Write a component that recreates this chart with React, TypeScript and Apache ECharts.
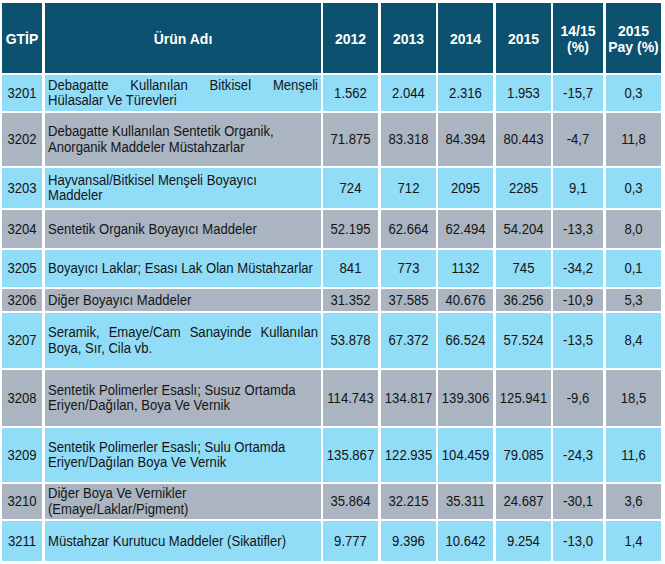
import React, { useEffect, useRef } from 'react';
import * as echarts from 'echarts';

// ---- data ----
const headers = ['GTİP', 'Ürün Adı', '2012', '2013', '2014', '2015', '14/15\n(%)', '2015\nPay (%)'];
const gtip = ['3201', '3202', '3203', '3204', '3205', '3206', '3207', '3208', '3209', '3210', '3211'];
const productNames = [
  'Debagatte Kullanılan Bitkisel Menşeli\nHülasalar Ve Türevleri',
  'Debagatte Kullanılan Sentetik Organik,\nAnorganik Maddeler Müstahzarlar',
  'Hayvansal/Bitkisel Menşeli Boyayıcı\nMaddeler',
  'Sentetik Organik Boyayıcı Maddeler',
  'Boyayıcı Laklar; Esası Lak Olan Müstahzarlar',
  'Diğer Boyayıcı Maddeler',
  'Seramik, Emaye/Cam Sanayinde Kullanılan\nBoya, Sır, Cila vb.',
  'Sentetik Polimerler Esaslı; Susuz Ortamda\nEriyen/Dağılan, Boya Ve Vernik',
  'Sentetik Polimerler Esaslı; Sulu Ortamda\nEriyen/Dağılan Boya Ve Vernik',
  'Diğer Boya Ve Vernikler\n(Emaye/Laklar/Pigment)',
  'Müstahzar Kurutucu Maddeler (Sikatifler)',
];
const justifiedFirstLine = [true, false, false, false, false, false, true, false, false, false, false];
const v2012 = ['1.562', '71.875', '724', '52.195', '841', '31.352', '53.878', '114.743', '135.867', '35.864', '9.777'];
const v2013 = ['2.044', '83.318', '712', '62.664', '773', '37.585', '67.372', '134.817', '122.935', '32.215', '9.396'];
const v2014 = ['2.316', '84.394', '2095', '62.494', '1132', '40.676', '66.524', '139.306', '104.459', '35.311', '10.642'];
const v2015 = ['1.953', '80.443', '2285', '54.204', '745', '36.256', '57.524', '125.941', '79.085', '24.687', '9.254'];
const change1415 = ['-15,7', '-4,7', '9,1', '-13,3', '-34,2', '-10,9', '-13,5', '-9,6', '-24,3', '-30,1', '-13,0'];
const share2015 = ['0,3', '11,8', '0,3', '8,0', '0,1', '5,3', '8,4', '18,5', '11,6', '3,6', '1,4'];

// ---- layout ----
const colLefts = [2, 45, 323, 381, 438, 496, 553, 606];
const colWidths = [40, 276, 55, 55, 55, 55, 50, 55];
const headerTop = 3;
const headerHeight = 70;
const rowHeights = [36, 53, 40, 38, 37, 22, 55, 56, 54, 35, 40];
const GAP = 2;
const LINE_H = 15.5;
const FONT_FAMILY = '"Liberation Sans", Arial, sans-serif';
const FONT_SIZE = 13.1;
const HEADER_FONT_SIZE = 14;
const TEXT_SCALE_Y = 1.1;

const HEADER_BG = '#0c5270';
const BLUE_BG = '#91dcf6';
const GRAY_BG = '#aab5c1';
const TEXT = '#141414';

const rowTops: number[] = [];
{
  let t = headerTop + headerHeight + GAP;
  for (const h of rowHeights) {
    rowTops.push(t);
    t += h + GAP;
  }
}

let measureCtx: CanvasRenderingContext2D | null = null;
function measure(text: string): number {
  if (!measureCtx) {
    const c = document.createElement('canvas');
    measureCtx = c.getContext('2d');
  }
  if (!measureCtx) return text.length * 7;
  measureCtx.font = `${FONT_SIZE}px ${FONT_FAMILY}`;
  return measureCtx.measureText(text).width;
}

function textEl(x: number, y: number, text: string, align: string, bold: boolean, fill: string, size: number) {
  return {
    type: 'text',
    x,
    y,
    scaleY: TEXT_SCALE_Y,
    silent: true,
    style: {
      text,
      fill,
      fontSize: size,
      fontFamily: FONT_FAMILY,
      fontWeight: bold ? 'bold' : 'normal',
      align,
      verticalAlign: 'middle',
    },
  };
}

export default function App() {
  const ref = useRef<HTMLDivElement>(null);
  useEffect(() => {
    if (!ref.current) return;
    const chart = echarts.init(ref.current, undefined, { renderer: 'svg' });

    const bodyCols = [gtip, productNames, v2012, v2013, v2014, v2015, change1415, share2015];

    const renderHeader = (params: any, api: any) => {
      const children: any[] = [];
      for (let c = 0; c < colLefts.length; c++) {
        const p0 = api.coord([colLefts[c], headerTop]);
        const p1 = api.coord([colLefts[c] + colWidths[c], headerTop + headerHeight]);
        children.push({
          type: 'rect',
          shape: { x: p0[0], y: p0[1], width: p1[0] - p0[0], height: p1[1] - p0[1] },
          style: { fill: HEADER_BG },
        });
        const lines = headers[c].split('\n');
        const cx = (p0[0] + p1[0]) / 2;
        const cy = (p0[1] + p1[1]) / 2 + 1;
        lines.forEach((ln, k) => {
          const y = cy + (k - (lines.length - 1) / 2) * LINE_H;
          children.push(textEl(cx, y, ln, 'center', true, '#ffffff', HEADER_FONT_SIZE));
        });
      }
      return { type: 'group', children };
    };

    const renderBody = (params: any, api: any) => {
      const r = api.value(0) as number;
      const top = rowTops[r];
      const h = rowHeights[r];
      const fill = r % 2 === 0 ? BLUE_BG : GRAY_BG;
      const children: any[] = [];
      for (let c = 0; c < colLefts.length; c++) {
        const p0 = api.coord([colLefts[c], top]);
        const p1 = api.coord([colLefts[c] + colWidths[c], top + h]);
        children.push({
          type: 'rect',
          shape: { x: p0[0], y: p0[1], width: p1[0] - p0[0], height: p1[1] - p0[1] },
          style: { fill },
        });
        const cy = (p0[1] + p1[1]) / 2;
        const text = bodyCols[c][r];
        if (c === 1) {
          const lines = text.split('\n');
          const left = p0[0] + 3;
          const right = p1[0] - 3;
          lines.forEach((ln, k) => {
            const y = cy + (k - (lines.length - 1) / 2) * LINE_H;
            if (k === 0 && justifiedFirstLine[r]) {
              const words = ln.split(' ');
              const widths = words.map(measure);
              const total = widths.reduce((a, b) => a + b, 0);
              const gap = (right - left - total) / (words.length - 1);
              let x = left;
              words.forEach((w, i) => {
                children.push(textEl(x, y, w, 'left', false, TEXT, FONT_SIZE));
                x += widths[i] + gap;
              });
            } else {
              children.push(textEl(left, y, ln, 'left', false, TEXT, FONT_SIZE));
            }
          });
        } else {
          const cx = (p0[0] + p1[0]) / 2;
          children.push(textEl(cx, cy, text, 'center', false, TEXT, FONT_SIZE));
        }
      }
      return { type: 'group', children };
    };

    chart.setOption({
      animation: false,
      backgroundColor: '#ffffff',
      grid: { left: 0, right: 0, top: 0, bottom: 0 },
      xAxis: { type: 'value', min: 0, max: 665, show: false },
      yAxis: { type: 'value', min: 0, max: 564, inverse: true, show: false },
      series: [
        {
          type: 'custom',
          silent: true,
          clip: false,
          data: [[0, 0]],
          renderItem: renderHeader,
        },
        {
          type: 'custom',
          silent: true,
          clip: false,
          data: gtip.map((_, i) => [i, i]),
          renderItem: renderBody,
        },
      ],
    });
    return () => chart.dispose();
  }, []);
  return (
    <div
      ref={ref}
      style={{ position: 'fixed', left: 0, top: 0, width: 665, height: 564 }}
    />
  );
}
